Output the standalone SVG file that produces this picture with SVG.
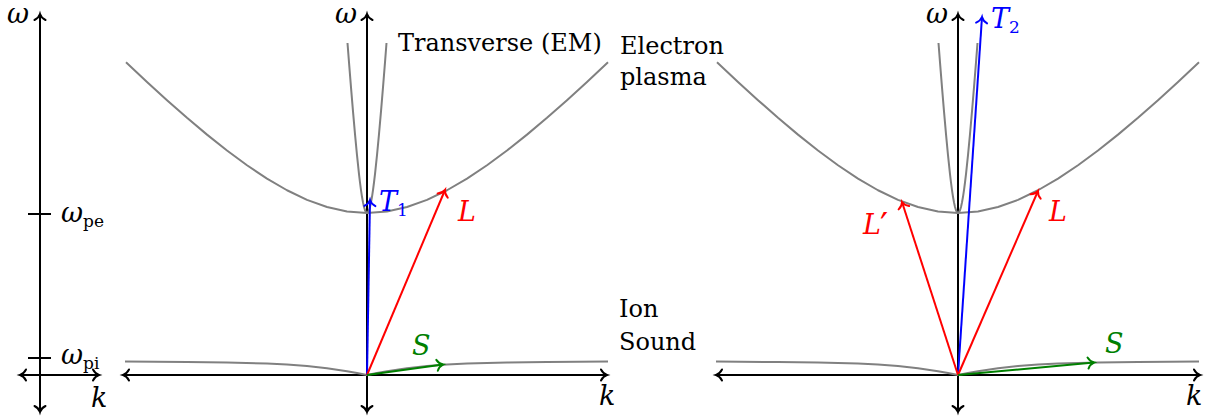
<svg xmlns="http://www.w3.org/2000/svg" xmlns:xlink="http://www.w3.org/1999/xlink" width="1221" height="416" viewBox="0 0 1221 416">
<style>
.ax2{stroke:#000;stroke-width:2;fill:none;marker-start:url(#hk);marker-end:url(#hk);}
.tick{stroke:#000;stroke-width:2;}
.cv{stroke:#808080;stroke-width:2;fill:none;stroke-linejoin:round;}
.ar{stroke-width:2;fill:none;}
.red{stroke:#ff0000;marker-end:url(#hr);}
.blue{stroke:#0000ff;marker-end:url(#hb);}
.green{stroke:#008000;marker-end:url(#hg);}
text{font-family:'DejaVu Serif',serif;font-size:24px;fill:#000;}
.m{font-style:italic;font-size:27px;}
.sub{font-size:17px;font-style:normal;}
.pr{font-family:'DejaVu Sans',sans-serif;font-style:normal;font-size:36px;}
.tr{fill:#ff0000;}.tb{fill:#0000ff;}.tg{fill:#008000;}
</style>
<defs>
<marker id="hk" markerUnits="userSpaceOnUse" orient="auto-start-reverse" overflow="visible" markerWidth="1" markerHeight="1" refX="0" refY="0"><path d="M-6,-5.5 C-4.5,-2.5 -2,-0.6 0,0 C-2,0.6 -4.5,2.5 -6,5.5" fill="none" stroke="#000" stroke-width="2" stroke-linecap="round"/></marker>
<marker id="hr" markerUnits="userSpaceOnUse" orient="auto" overflow="visible" markerWidth="1" markerHeight="1" refX="0" refY="0"><path d="M-6,-5.5 C-4.5,-2.5 -2,-0.6 0,0 C-2,0.6 -4.5,2.5 -6,5.5" fill="none" stroke="#ff0000" stroke-width="2" stroke-linecap="round"/></marker>
<marker id="hb" markerUnits="userSpaceOnUse" orient="auto" overflow="visible" markerWidth="1" markerHeight="1" refX="0" refY="0"><path d="M-6,-5.5 C-4.5,-2.5 -2,-0.6 0,0 C-2,0.6 -4.5,2.5 -6,5.5" fill="none" stroke="#0000ff" stroke-width="2" stroke-linecap="round"/></marker>
<marker id="hg" markerUnits="userSpaceOnUse" orient="auto" overflow="visible" markerWidth="1" markerHeight="1" refX="0" refY="0"><path d="M-6,-5.5 C-4.5,-2.5 -2,-0.6 0,0 C-2,0.6 -4.5,2.5 -6,5.5" fill="none" stroke="#008000" stroke-width="2" stroke-linecap="round"/></marker>
<path id="plasma" class="cv" d="M-241,-312.7 L-220,-293.05 -200,-274.83 -180,-257.22 -160,-240.39 -140,-224.48 -120,-209.73 -100,-196.38 -80,-184.74 -60,-175.16 -40,-167.97 -20,-163.5 0,-162 20,-163.5 40,-167.97 60,-175.16 80,-184.74 100,-196.38 120,-209.73 140,-224.48 160,-240.39 180,-257.22 200,-274.83 220,-293.05 241,-312.7"/>
<path id="transverse" class="cv" d="M-19.5,-332 L-18,-312.7 -16,-287.7 -14,-263.7 -12,-240.9 -10,-219.8 -8,-200.9 -7,-192.5 -6,-184.9 -5,-178.2 -4,-172.6 -3,-168 -2,-164.7 -1,-162.7 0,-162 1,-162.7 2,-164.7 3,-168 4,-172.6 5,-178.2 6,-184.9 7,-192.5 8,-200.9 10,-219.8 12,-240.9 14,-263.7 16,-287.7 18,-312.7 19.5,-332"/>
<path id="ionsound" class="cv" d="M-242,-13.4 L-180,-13 -140,-12.47 -100,-11.39 -80,-10.44 -60,-9 -40,-6.84 -20,-3.77 -10,-1.94 0,0 10,-1.94 20,-3.77 40,-6.84 60,-9 80,-10.44 100,-11.39 140,-12.47 180,-13 241,-13.4"/>
</defs>

<g id="frequency-axis">
<line class="ax2" x1="40" y1="412" x2="40" y2="14"/>
<line class="ax2" x1="20" y1="375" x2="99" y2="375"/>
<line class="tick" x1="28" y1="214" x2="51" y2="214"/>
<line class="tick" x1="28" y1="358" x2="51" y2="358"/>
<text class="m" x="7" y="23">ω</text>
<text x="61" y="222"><tspan class="m">ω</tspan><tspan class="sub" dy="5">pe</tspan></text>
<text x="61" y="364"><tspan class="m">ω</tspan><tspan class="sub" dy="5">pi</tspan></text>
<text class="m" x="91" y="407">k</text>
</g>

<g id="panel-1">
<g id="panel-1-axes">
<line class="ax2" x1="367" y1="412" x2="367" y2="14"/>
<line class="ax2" x1="123" y1="375" x2="607" y2="375"/>
<text class="m" x="335" y="23">ω</text>
<text class="m" x="599" y="405">k</text>
</g>
<g id="panel-1-curves" transform="translate(367,375)">
<use xlink:href="#plasma"/>
<use xlink:href="#transverse"/>
<use xlink:href="#ionsound"/>
</g>
<g id="panel-1-labels">
<text x="398" y="51">Transverse (EM)</text>
<text x="620" y="54">Electron</text>
<text x="620" y="85">plasma</text>
<text x="619" y="317">Ion</text>
<text x="619" y="350">Sound</text>
</g>
<g id="panel-1-waves">
<line class="ar blue" x1="367" y1="375" x2="370" y2="200"/>
<line class="ar red" x1="367" y1="375" x2="445" y2="190"/>
<line class="ar green" x1="367" y1="375" x2="443" y2="364.5"/>
<text class="m tb" x="379" y="211">T<tspan class="sub" dy="5">1</tspan></text>
<text class="m tr" x="458" y="221">L</text>
<text class="m tg" x="412" y="355">S</text>
</g>
</g>

<g id="panel-2">
<g id="panel-2-axes">
<line class="ax2" x1="958" y1="412" x2="958" y2="14"/>
<line class="ax2" x1="716" y1="375" x2="1200" y2="375"/>
<text class="m" x="926" y="23">ω</text>
<text class="m" x="1186" y="405">k</text>
</g>
<g id="panel-2-curves" transform="translate(958,375)">
<use xlink:href="#plasma"/>
<use xlink:href="#transverse"/>
<use xlink:href="#ionsound"/>
</g>
<g id="panel-2-waves">
<line class="ar blue" x1="958" y1="375" x2="982" y2="17"/>
<line class="ar red" x1="958" y1="375" x2="1038" y2="191"/>
<line class="ar red" x1="958" y1="375" x2="902" y2="202"/>
<line class="ar green" x1="958" y1="375" x2="1094" y2="362.5"/>
<text class="m tb" x="991" y="28">T<tspan class="sub" dy="5">2</tspan></text>
<text class="m tr" x="1049" y="221">L</text>
<text class="m tr" x="863" y="234">L<tspan class="pr" dx="-1" dy="4">′</tspan></text>
<text class="m tg" x="1105" y="353">S</text>
</g>
</g>
</svg>
